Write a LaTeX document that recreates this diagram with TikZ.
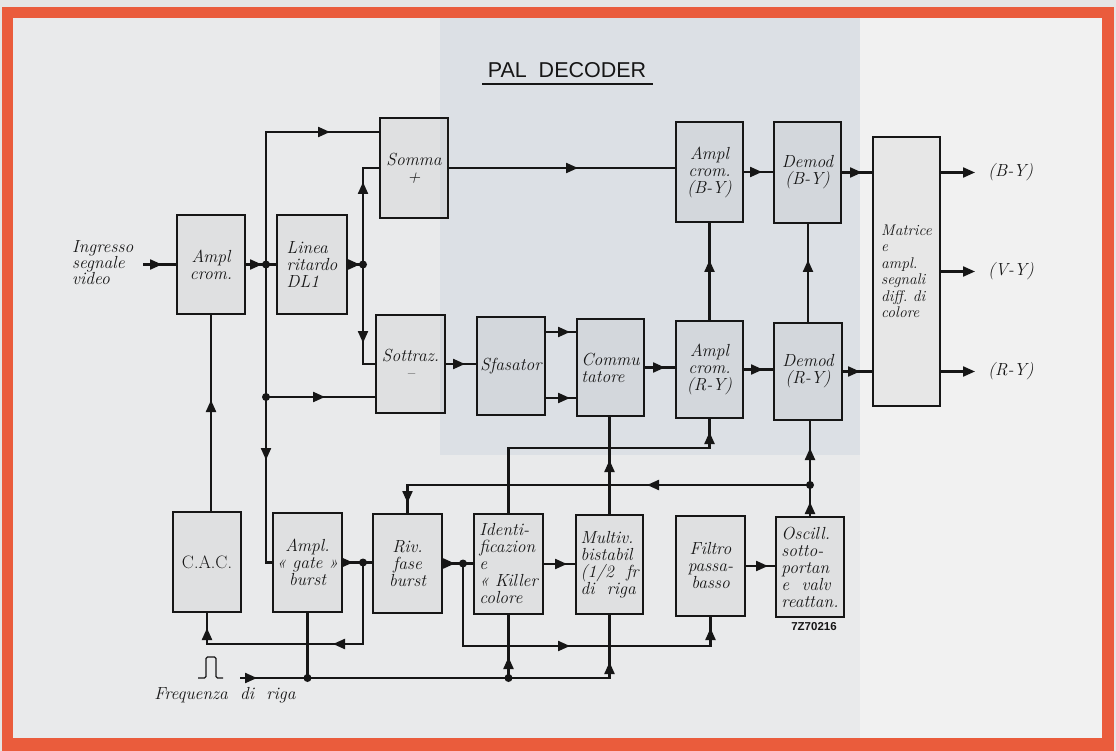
\documentclass[tikz,border=0pt]{standalone}
\usepackage{fontspec}
\newfontfamily\titlefont{Liberation Sans}
\usetikzlibrary{arrows.meta,decorations.markings,calc}
\definecolor{frame}{RGB}{234,92,60}
\definecolor{paper}{RGB}{233,234,235}
\definecolor{paperR}{RGB}{241,241,241}
\definecolor{bluish}{RGB}{220,224,229}
\definecolor{ink}{RGB}{22,22,22}
\newcommand{\bx}{\itshape\addfontfeature{FakeBold=1.2}}
\tikzset{
  tri/.tip={Triangle[length=12pt,width=10pt]},
  blk/.style={draw=ink, line width=1.6pt, fill=black, fill opacity=0.04, text opacity=1,
    inner sep=0pt, outer sep=0pt, text=ink, font=\fontsize{17.5}{17}\selectfont\bx},
  conn/.style={draw=ink, line width=2.2pt},
  ar/.style={postaction={decorate,decoration={markings,mark=at position #1pt with {\arrow{tri}}}}},
  arr/.style 2 args={postaction={decorate,decoration={markings,
      mark=at position #1pt with {\arrow{tri}},
      mark=at position #2pt with {\arrow{tri}}}}},
  jdot/.style={circle, fill=ink, inner sep=0pt, minimum size=8pt},
  lbl/.style={text=ink, font=\fontsize{17.5}{16}\selectfont\bx, align=left, inner sep=0pt},
}
\begin{document}
\begin{tikzpicture}[x=1pt,y=-1pt]
\useasboundingbox (0,0) rectangle (1116,751);
% background and frame
\fill[gray!20] (0,0) rectangle (1116,751);
\fill[frame] (2,7) rectangle (1114,751);
\fill[paper] (13,18) rectangle (1102,738);
\fill[paperR] (860,18) rectangle (1102,738);
\fill[bluish] (440,18) rectangle (860,455);

% title
\node[text=ink, font=\titlefont\fontsize{21.5}{21.5}\selectfont, inner sep=0pt] (title) at (567,70) {PAL\ \ DECODER};
\draw[ink, line width=2pt] (482,84) -- (653,84);

% blocks
\node[blk, minimum width=68pt, minimum height=99pt, align=center] (amp) at (211,264.5) {Ampl\\crom.};
\node[blk, minimum width=70pt, minimum height=99pt, align=left] (dl) at (312,264.5) {Linea\\ritardo\\DL1};
\node[blk, minimum width=68pt, minimum height=100pt, align=center] (som) at (414,168) {Somma\\+};
\node[blk, minimum width=69pt, minimum height=98pt, align=center] (sot) at (410.5,364) {Sottraz.\\--};
\node[blk, minimum width=68pt, minimum height=98pt, align=center] (sfa) at (511,366) {Sfasator};
\node[blk, minimum width=67pt, minimum height=97pt, align=left] (com) at (610.5,367.5) {Commu\\tatore};
\node[blk, minimum width=67pt, minimum height=100pt, align=center] (abm) at (709.5,172) {Ampl\\crom.\\(B-Y)};
\node[blk, minimum width=67pt, minimum height=101pt, align=center] (dbm) at (807.5,172.5) {Demod\\(B-Y)};
\node[blk, minimum width=67pt, minimum height=269pt, align=left, font=\fontsize{15.5}{16.5}\selectfont\bx] (mat) at (906.5,271.5) {Matrice\\e\\ampl.\\segnali\\diff.~di\\colore};
\node[blk, minimum width=67pt, minimum height=97pt, align=center] (arm) at (709.5,369.5) {Ampl\\crom.\\(R-Y)};
\node[blk, minimum width=68pt, minimum height=97pt, align=center] (drm) at (808,371.5) {Demod\\(R-Y)};
\node[blk, minimum width=68pt, minimum height=100pt, align=center, font=\fontsize{18}{18}\selectfont\addfontfeature{FakeBold=1.2}] (cac) at (207,562) {C.A.C.};
\node[blk, minimum width=69pt, minimum height=99pt, align=center] (agb) at (307.5,562.5) {Ampl.\\« gate »\\burst};
\node[blk, minimum width=69pt, minimum height=99pt, align=center] (rfb) at (407.5,563.5) {Riv.\\fase\\burst};
\node[blk, minimum width=69pt, minimum height=100pt, align=left] (idk) at (508.5,564) {Identi-\\ficazion\\e\\« Killer\\colore};
\node[blk, minimum width=67pt, minimum height=99pt, align=left] (mul) at (609.5,564.5) {Multiv.\\bistabil\\(1/2~~fr\\di~~riga};
\node[blk, minimum width=69pt, minimum height=100pt, align=center] (fil) at (710.5,566) {Filtro\\passa-\\basso};
\node[blk, minimum width=68pt, minimum height=100pt, align=left] (osc) at (810,567) {Oscill.\\sotto-\\portan\\e~~valv\\reattan.};

% labels
\node[lbl, anchor=west] (inlbl) at (72,263) {Ingresso\\segnale\\video};
\node[lbl, anchor=north] (fqlbl) at (225,687) {Frequenza~~di~~riga};
\node[text=ink, font=\titlefont\bfseries\fontsize{11.5}{12}\selectfont, inner sep=0pt] (code) at (814,627) {7Z70216};

% coordinates
\coordinate (in) at (143,264.5);
\coordinate (j1) at (266,264.5);
\coordinate (j2) at (266,397);
\coordinate (j3) at (363,264.5);
\coordinate (j4) at (810,485);
\coordinate (j5) at (363,562.5);
\coordinate (j6) at (463,563.5);
\coordinate (fq) at (240,678);
\coordinate (j7) at (agb.south |- fq);
\coordinate (j8) at (idk.south |- fq);
\coordinate (o1) at (975,172.5);
\coordinate (o2) at (975,271.5);
\coordinate (o3) at (975,371.5);

% connectors
\draw[conn, ar=19] (in) -- (amp.west);
\draw[conn, ar=17] (amp.east) -- (j1);
\draw[conn] (j1) -- (dl.west);
\draw[conn, ar=196.5] (j1) |- ($(som.west)+(0,-36)$);
\draw[conn, ar=195.5] (j1) |- (agb.west);
\draw[conn, ar=59] (j2) -- ($(sot.west)+(0,33)$);
\draw[conn, ar=13] (dl.east) -- (j3);
\draw[conn, ar=82.5] (j3) |- (som.west);
\draw[conn, ar=78.5] (j3) |- (sot.west);
\draw[conn, ar=130] (som.east) -- (som.east -| abm.west);
\draw[conn, ar=19] (abm.east) -- (abm.east -| dbm.west);
\draw[conn, ar=21] (dbm.east) -- (dbm.east -| mat.west);
\draw[conn, -tri] (mat.east |- o1) -- (o1);
\draw[conn, -tri] (mat.east |- o2) -- (o2);
\draw[conn, -tri] (mat.east |- o3) -- (o3);
\draw[conn, ar=20] (sot.east) -- (sot.east -| sfa.west);
\draw[conn, ar=25] ($(sfa.east)+(0,-34)$) -- ($(sfa.east -| com.west)+(0,-34)$);
\draw[conn, ar=25] ($(sfa.east)+(0,32)$) -- ($(sfa.east -| com.west)+(0,32)$);
\draw[conn, ar=21] (com.east) -- (com.east -| arm.west);
\draw[conn, ar=20] (arm.east) -- (arm.east -| drm.west);
\draw[conn, ar=18] (drm.east) -- (drm.east -| mat.west);
\draw[conn, ar=61] (arm.north) -- (abm.south);
\draw[conn, ar=63] (drm.north) -- (drm.north |- dbm.south);
\draw[conn, ar=15] (osc.north) -- (j4);
\draw[conn, ar=37] (j4) -- (j4 |- drm.south);
\draw[conn, arr={163}{420.5}] (j4) -| (rfb.north);
\draw[conn, ar=283] (idk.north) |- ($(arm.south)+(0,30)$) -- (arm.south);
\draw[conn, ar=55] (mul.north) -- (mul.north |- com.south);
\draw[conn, ar=11] (agb.east) -- (j5);
\draw[conn] (j5) -- (j5 -| rfb.west);
\draw[conn, arr={111.5}{253.5}] (j5) |- ($(cac.south)+(0,32)$) -- (cac.south);
\draw[conn, ar=13] (rfb.east) -- (j6);
\draw[conn] (j6) -- (j6 -| idk.west);
\draw[conn, arr={189.5}{348}] (j6) |- ($(fil.south)+(0,30)$) -- (fil.south);
\draw[conn, ar=24] (idk.east) -- (idk.east -| mul.west);
\draw[conn, ar=23] (fil.east) -- (fil.east -| osc.west);
\draw[conn, arr={17}{385.5}] (fq) -| (mul.south);
\draw[conn] (j7) -- (agb.south);
\draw[conn, ar=21] (j8) -- (idk.south);
\draw[conn, ar=112] (amp.south |- cac.north) -- (amp.south);

% junction dots
\node[jdot] (d1) at (j1) {};
\node[jdot] (d2) at (j2) {};
\node[jdot] (d3) at (j3) {};
\node[jdot] (d4) at (j4) {};
\node[jdot] (d5) at (j5) {};
\node[jdot] (d6) at (j6) {};
\node[jdot] (d7) at (j7) {};
\node[jdot] (d8) at (j8) {};

% output labels
\node[lbl, anchor=west] (tby) at (988,172.5) {(B-Y)};
\node[lbl, anchor=west] (tvy) at (988,271.5) {(V-Y)};
\node[lbl, anchor=west] (try) at (988,371.5) {(R-Y)};

% line-frequency pulse symbol
\draw[ink, line width=1.2pt, rounded corners=1.5pt] (198,678) -- (206,678) -- (206,657) -- (216,657) -- (216,678) -- (223,678);
\end{tikzpicture}
\end{document}
